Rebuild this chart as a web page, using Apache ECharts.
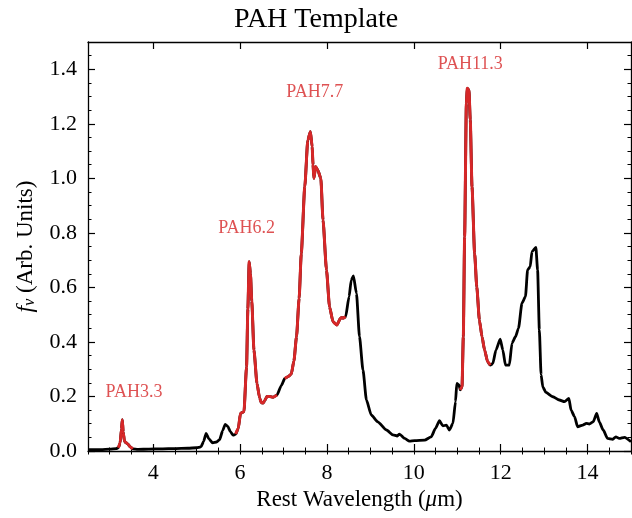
<!DOCTYPE html>
<html>
<head>
<meta charset="utf-8">
<title>PAH Template</title>
<script src="https://cdn.jsdelivr.net/npm/echarts@6/dist/echarts.min.js"></script>
<style>
  html, body { margin: 0; padding: 0; background: #fff; }
  #chart { width: 632px; height: 518px; }
</style>
</head>
<body>
<div id="chart"></div>
<script>
// Rest wavelength (micron) and template flux density (arbitrary units)
const wavelength = [
  2.50, 2.80, 3.00, 3.15, 3.20, 3.24, 3.27, 3.29, 3.31, 3.34, 3.38, 3.42, 3.47, 3.53,
  3.65, 3.90, 4.20, 4.50, 4.80, 5.00, 5.10, 5.16, 5.22, 5.28, 5.37, 5.46, 5.53, 5.60,
  5.66, 5.72, 5.78, 5.84, 5.90, 5.96, 6.01, 6.09, 6.15, 6.18, 6.21, 6.24, 6.27, 6.32,
  6.39, 6.45, 6.49, 6.53, 6.57, 6.62, 6.68, 6.76, 6.85, 6.95, 7.03, 7.10, 7.18, 7.24,
  7.30, 7.36, 7.41, 7.49, 7.56, 7.62, 7.66, 7.68, 7.70, 7.74, 7.79, 7.86, 7.91, 7.99,
  8.06, 8.14, 8.23, 8.31, 8.34, 8.37, 8.43, 8.51, 8.56, 8.61, 8.68, 8.75, 8.83, 8.91,
  9.02, 9.17, 9.37, 9.52, 9.62, 9.67, 9.79, 9.90, 10.02, 10.25, 10.40, 10.50, 10.59, 10.67,
  10.75, 10.82, 10.90, 10.96, 10.99, 11.04, 11.07, 11.11, 11.14, 11.17, 11.21, 11.23, 11.27, 11.30,
  11.34, 11.40, 11.45, 11.51, 11.57, 11.63, 11.70, 11.76, 11.82, 11.89, 11.99, 12.05, 12.11, 12.20,
  12.26, 12.34, 12.41, 12.49, 12.57, 12.62, 12.68, 12.72, 12.81, 12.85, 12.89, 12.93, 12.97, 13.04,
  13.20, 13.35, 13.47, 13.57, 13.62, 13.70, 13.77, 13.89, 13.97, 14.04, 14.13, 14.21, 14.27, 14.36,
  14.46, 14.58, 14.65, 14.73, 14.85, 15.00
];
const flux = [
  0.005, 0.005, 0.007, 0.009, 0.012, 0.030, 0.080, 0.115, 0.070, 0.035, 0.030, 0.025, 0.015, 0.008,
  0.006, 0.007, 0.008, 0.009, 0.010, 0.012, 0.015, 0.035, 0.065, 0.045, 0.030, 0.033, 0.042, 0.075,
  0.098, 0.090, 0.070, 0.058, 0.062, 0.083, 0.138, 0.144, 0.309, 0.520, 0.694, 0.650, 0.550, 0.370,
  0.248, 0.195, 0.177, 0.176, 0.185, 0.200, 0.200, 0.197, 0.205, 0.240, 0.266, 0.272, 0.282, 0.330,
  0.419, 0.560, 0.725, 0.969, 1.140, 1.171, 1.116, 1.050, 1.000, 1.043, 1.030, 1.000, 0.847, 0.664,
  0.529, 0.474, 0.462, 0.486, 0.490, 0.487, 0.492, 0.566, 0.627, 0.642, 0.578, 0.419, 0.297, 0.187,
  0.132, 0.107, 0.077, 0.059, 0.055, 0.062, 0.046, 0.036, 0.038, 0.040, 0.052, 0.083, 0.111, 0.092,
  0.095, 0.077, 0.101, 0.181, 0.248, 0.242, 0.224, 0.236, 0.419, 0.786, 1.275, 1.330, 1.324, 1.214,
  0.969, 0.725, 0.602, 0.480, 0.419, 0.370, 0.327, 0.315, 0.321, 0.370, 0.410, 0.370, 0.315, 0.315,
  0.395, 0.419, 0.450, 0.542, 0.566, 0.664, 0.676, 0.731, 0.747, 0.664, 0.444, 0.280, 0.235, 0.215,
  0.199, 0.187, 0.181, 0.193, 0.150, 0.126, 0.089, 0.095, 0.101, 0.099, 0.107, 0.138, 0.107, 0.077,
  0.046, 0.043, 0.052, 0.046, 0.050, 0.034
];

// PAH features highlighted in red: name and wavelength span
const featureNames = ['PAH3.3', 'PAH6.2', 'PAH7.7', 'PAH11.3'];
const featureStart = [3.20, 5.90, 7.03, 11.07];
const featureEnd   = [3.53, 6.85, 8.43, 11.76];

// Axis tick values
const xMajorTicks = [4, 6, 8, 10, 12, 14];
const yMajorTicks = [0.0, 0.2, 0.4, 0.6, 0.8, 1.0, 1.2, 1.4];

const spectrum = wavelength.map((w, i) => [w, flux[i]]);

// Feature segments joined into one series, separated by gaps
const featureData = [];
featureNames.forEach((_, k) => {
  wavelength.forEach((w, i) => {
    if (w >= featureStart[k] - 1e-9 && w <= featureEnd[k] + 1e-9) featureData.push([w, flux[i]]);
  });
  featureData.push([featureEnd[k] + 0.01, null]);
});

const SERIF = '"Liberation Serif", "DejaVu Serif", serif';
const RED = '#d62728';
const X_MIN = 2.5, X_MAX = 15, Y_MIN = 0, Y_MAX = 1.5;

function frameAxis(kind, position, opts) {
  return Object.assign({
    type: 'value',
    position: position,
    min: kind === 'x' ? X_MIN : Y_MIN,
    max: kind === 'x' ? X_MAX : Y_MAX,
    splitLine: { show: false },
    axisLine: { show: true, onZero: false, lineStyle: { color: '#000', width: 1.3 } },
    axisLabel: { show: false },
    axisTick: { show: false }
  }, opts);
}

function majorTicks(values) {
  return { show: true, inside: true, length: 7, customValues: values, lineStyle: { color: '#000', width: 1.2 } };
}
function minorTicks() {
  return { show: true, inside: true, length: 3.5, lineStyle: { color: '#000', width: 1 } };
}

const xAxes = [
  frameAxis('x', 'bottom', {
    axisTick: majorTicks(xMajorTicks),
    axisLabel: {
      show: true, customValues: xMajorTicks, margin: 11, color: '#000', fontFamily: SERIF, fontSize: 22,
      formatter: v => String(Math.round(v))
    },
    name: 'Rest Wavelength ({it|μ}m)',
    nameLocation: 'middle',
    nameGap: 36,
    nameTextStyle: {
      color: '#000', fontFamily: SERIF, fontSize: 23,
      rich: { it: { fontStyle: 'italic', fontFamily: SERIF, fontSize: 23, color: '#000' } }
    }
  }),
  frameAxis('x', 'bottom', { interval: 0.5, axisLine: { show: false }, axisTick: minorTicks() }),
  frameAxis('x', 'top', { axisTick: majorTicks(xMajorTicks) }),
  frameAxis('x', 'top', { interval: 0.5, axisLine: { show: false }, axisTick: minorTicks() })
];

const yAxes = [
  frameAxis('y', 'left', {
    axisTick: majorTicks(yMajorTicks),
    axisLabel: {
      show: true, customValues: yMajorTicks, margin: 11, color: '#000', fontFamily: SERIF, fontSize: 22,
      formatter: v => v.toFixed(1)
    },
    name: '{f|f}{s|ν} (Arb. Units)',
    nameLocation: 'middle',
    nameRotate: 90,
    nameGap: 50,
    nameTextStyle: {
      color: '#000', fontFamily: SERIF, fontSize: 23,
      rich: {
        f: { fontStyle: 'italic', fontFamily: SERIF, fontSize: 24, color: '#000' },
        s: { fontStyle: 'italic', fontFamily: SERIF, fontSize: 16, color: '#000', verticalAlign: 'bottom', padding: [7, 0, 0, 0] }
      }
    }
  }),
  frameAxis('y', 'left', { interval: 0.05, axisLine: { show: false }, axisTick: minorTicks() }),
  frameAxis('y', 'right', { axisTick: majorTicks(yMajorTicks) }),
  frameAxis('y', 'right', { interval: 0.05, axisLine: { show: false }, axisTick: minorTicks() })
];

const chart = echarts.init(document.getElementById('chart'), null, { renderer: 'canvas' });
chart.setOption({
  animation: false,
  backgroundColor: '#fff',
  title: {
    text: 'PAH Template',
    left: 'center',
    top: 1,
    textStyle: { fontFamily: SERIF, fontSize: 28, fontWeight: 'normal', color: '#000' }
  },
  grid: { left: 88, right: 1, top: 42, bottom: 67, containLabel: false },
  xAxis: xAxes,
  yAxis: yAxes,
  series: [
    {
      name: 'Template',
      type: 'line',
      data: spectrum,
      showSymbol: false,
      smooth: 0.2,
      smoothMonotone: 'x',
      lineStyle: { color: '#000', width: 2.8 },
      z: 2
    },
    {
      name: 'Features',
      type: 'line',
      data: featureData,
      showSymbol: false,
      connectNulls: false,
      smooth: 0.2,
      smoothMonotone: 'x',
      lineStyle: { color: RED, width: 3 },
      z: 3
    },
    {
      name: 'Feature labels',
      type: 'scatter',
      symbolSize: 0,
      silent: true,
      data: [
        { value: [3.56, 0.216], name: featureNames[0] },
        { value: [6.15, 0.818], name: featureNames[1] },
        { value: [7.72, 1.317], name: featureNames[2] },
        { value: [11.30, 1.419], name: featureNames[3] }
      ],
      label: {
        show: true,
        position: 'inside',
        formatter: p => p.name,
        color: RED,
        fontFamily: SERIF,
        fontSize: 18
      },
      z: 4
    }
  ]
});
</script>
</body>
</html>
